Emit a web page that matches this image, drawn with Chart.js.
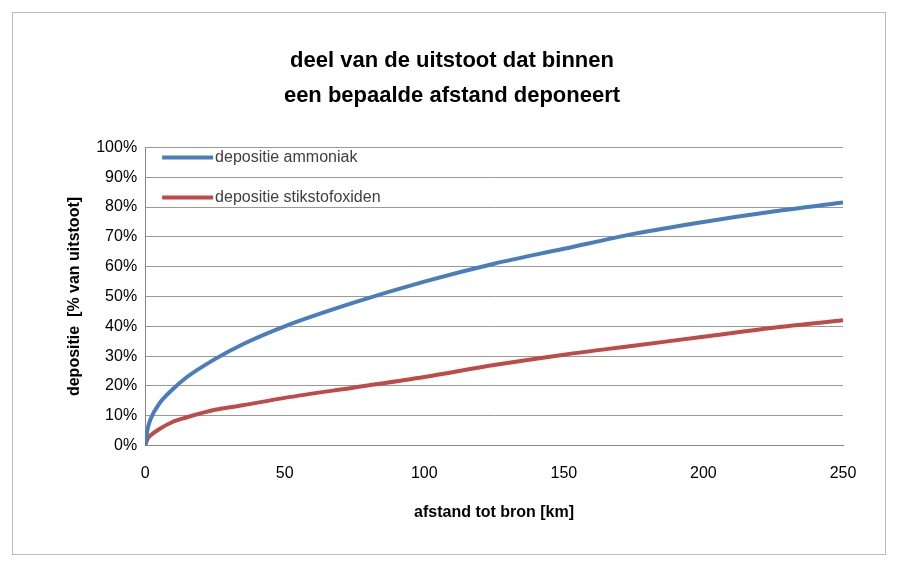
<!DOCTYPE html>
<html>
<head>
<meta charset="utf-8">
<script src="https://cdn.jsdelivr.net/npm/chart.js@4"></script>
<style>
  body { margin: 0; background: #fff; }
  #wrap { position: absolute; left: 12px; top: 12px; width: 874px; height: 543px; border: 1px solid #bbb; box-sizing: border-box; }
</style>
</head>
<body>
<div id="wrap"><canvas id="chart"></canvas></div>
<script>
const distances = [0, 1, 2, 5, 10, 15, 25, 35, 50, 75, 100, 125, 150, 175, 200, 225, 250];
const ammoniak = [0, 6, 9, 14, 19, 23, 29, 34, 40, 48, 55, 61, 66, 71, 75, 78.5, 81.5];
const stikstof = [0, 2.5, 3.5, 5.5, 8, 9.5, 12, 13.5, 16, 19.5, 23, 27, 30.5, 33.5, 36.5, 39.5, 42];
const seriesNames = ['depositie ammoniak', 'depositie stikstofoxiden'];
const seriesColors = ['#4a7ebb', '#be4b48'];

const font = 'Liberation Sans';

const toPoints = vals => distances.map((d, i) => ({ x: d, y: vals[i] }));

const insideLegend = {
  id: 'insideLegend',
  afterDraw(chart) {
    const ctx = chart.ctx;
    const a = chart.chartArea;
    ctx.save();
    ctx.font = '16px ' + font;
    ctx.textBaseline = 'middle';
    seriesNames.forEach((name, i) => {
      const y = a.top + 10 + i * 40;
      ctx.strokeStyle = seriesColors[i];
      ctx.lineWidth = 4;
      ctx.beginPath();
      ctx.moveTo(a.left + 17, y);
      ctx.lineTo(a.left + 68, y);
      ctx.stroke();
      ctx.fillStyle = '#404040';
      ctx.fillText(name, a.left + 70, y);
    });
    ctx.restore();
  }
};

new Chart(document.getElementById('chart'), {
  type: 'line',
  data: {
    datasets: [
      { label: seriesNames[0], data: toPoints(ammoniak), borderColor: seriesColors[0], borderWidth: 4, pointRadius: 0, tension: 0.4, cubicInterpolationMode: 'monotone' },
      { label: seriesNames[1], data: toPoints(stikstof), borderColor: seriesColors[1], borderWidth: 4, pointRadius: 0, tension: 0.4, cubicInterpolationMode: 'monotone' }
    ]
  },
  options: {
    responsive: true,
    maintainAspectRatio: false,
    animation: false,
    layout: { padding: { left: 48, right: 42, top: 16, bottom: 28 } },
    plugins: {
      legend: { display: false },
      tooltip: { enabled: false },
      title: {
        display: true,
        text: ['deel van de uitstoot dat binnen', 'een bepaalde afstand deponeert'],
        color: '#000',
        font: { family: font, size: 22, weight: 'bold', lineHeight: 1.6 },
        padding: { top: 14, bottom: 34 }
      }
    },
    scales: {
      x: {
        type: 'linear', min: 0, max: 250,
        ticks: { stepSize: 50, color: '#000', padding: 10, font: { family: font, size: 16 } },
        grid: { display: false },
        border: { color: '#888' },
        title: { display: true, text: 'afstand tot bron [km]', color: '#000', padding: { top: 10 }, font: { family: font, size: 16, weight: 'bold' } }
      },
      y: {
        min: 0, max: 100,
        ticks: { stepSize: 10, color: '#000', padding: 8, callback: v => v + '%', font: { family: font, size: 16 } },
        grid: { color: '#999', drawTicks: false },
        border: { color: '#888' },
        title: { display: true, text: 'depositie  [% van uitstoot]', color: '#000', font: { family: font, size: 16, weight: 'bold' } }
      }
    }
  },
  plugins: [insideLegend]
});
</script>
</body>
</html>
